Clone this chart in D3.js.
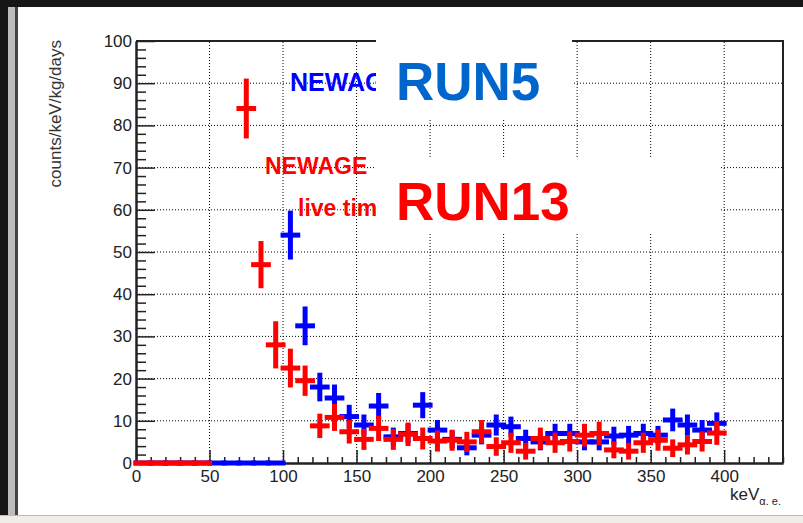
<!DOCTYPE html>
<html>
<head>
<meta charset="utf-8">
<script src="https://cdn.jsdelivr.net/npm/d3@7"></script>
<style>
  body { margin: 0; background: #151515; }
  svg { display: block; font-family: "Liberation Sans", Arial, sans-serif; }
</style>
</head>
<body>
<div id="plot-container"></div>
<script>
// bin centres (keV) and values, RUN13 (red) and RUN5 (blue)
var redZeroBins = [5, 15, 25, 35, 45];
var blueZeroBins = [5, 15, 25, 35, 45, 55, 65, 75, 85, 95];

var redCentres = [75, 85, 95, 105, 115, 125, 135, 145, 155, 165, 175, 185, 195, 205, 215, 225, 235, 245, 255, 265, 275, 285, 295, 305, 315, 325, 335, 345, 355, 365, 375, 385, 395];
var redValues  = [84, 47, 28, 22.5, 19.5, 8.8, 10.8, 7.4, 5.6, 8.2, 5.6, 6.8, 5.8, 5.2, 5.4, 5.0, 7.4, 3.9, 4.8, 2.8, 5.8, 4.8, 5.1, 6.6, 7.0, 3.1, 2.8, 4.8, 5.4, 3.5, 4.3, 5.1, 7.1];
var redErrors  = [6.5, 5, 5, 4, 3, 2.3, 2.6, 2.2, 1.9, 2.4, 1.9, 2.2, 2, 1.9, 1.9, 1.8, 2.2, 1.6, 1.8, 1.4, 2, 1.8, 1.8, 2.1, 2.2, 1.4, 1.4, 1.8, 1.9, 1.5, 1.7, 1.8, 2.2];

var blueCentres = [105, 115, 125, 135, 145, 155, 165, 175, 185, 195, 205, 215, 225, 235, 245, 255, 265, 275, 285, 295, 305, 315, 325, 335, 345, 355, 365, 375, 385, 395];
var blueValues  = [54, 32.5, 18, 15.4, 11, 9, 13.5, 6.2, 7, 13.7, 7.8, 5.6, 3.6, 6.6, 9, 8.6, 5.8, 5, 7, 7, 5, 5, 6.4, 6.6, 7, 6.6, 10.2, 9, 7.8, 9.4];
var blueErrors  = [5.2, 4, 2.8, 2.6, 2.2, 1.9, 2.5, 1.6, 1.7, 2.5, 1.8, 1.5, 1.2, 1.6, 1.9, 1.8, 1.5, 1.4, 1.7, 1.7, 1.4, 1.4, 1.6, 1.6, 1.7, 1.6, 2.1, 1.9, 1.8, 2];

var xMajor = [0, 50, 100, 150, 200, 250, 300, 350, 400];
var yMajor = [0, 10, 20, 30, 40, 50, 60, 70, 80, 90, 100];

var binHalf = 5;
var width = 803, height = 523;

var svg = d3.select("#plot-container").append("svg")
  .attr("width", width)
  .attr("height", height);

// window chrome
svg.append("rect").attr("width", width).attr("height", height).attr("fill", "#161616");
svg.append("rect").attr("x", 8).attr("y", 7).attr("width", 8).attr("height", 510).attr("fill", "#bdbdbd");
svg.append("rect").attr("x", 15).attr("y", 7).attr("width", 3).attr("height", 510).attr("fill", "#444");
svg.append("rect").attr("x", 18).attr("y", 7).attr("width", width - 18).attr("height", 509).attr("fill", "#ffffff");
svg.append("rect").attr("x", 0).attr("y", 515).attr("width", width).attr("height", 8).attr("fill", "#eeede8");
svg.append("line").attr("x1", 0).attr("x2", width).attr("y1", 515.5).attr("y2", 515.5).attr("stroke", "#bbb");

var x = d3.scaleLinear().domain([0, 440]).range([136, 783]);
var y = d3.scaleLinear().domain([0, 100]).range([463, 41]);

// dotted grid
svg.append("g").selectAll("line").data(xMajor.slice(1))
  .enter().append("line")
  .attr("x1", function(d){ return x(d); }).attr("x2", function(d){ return x(d); })
  .attr("y1", y(0)).attr("y2", y(100))
  .attr("stroke", "#000").attr("stroke-width", 1).attr("stroke-dasharray", "1,2");
svg.append("g").selectAll("line").data(yMajor.slice(1, -1))
  .enter().append("line")
  .attr("x1", x(0)).attr("x2", x(440))
  .attr("y1", function(d){ return y(d); }).attr("y2", function(d){ return y(d); })
  .attr("stroke", "#000").attr("stroke-width", 1).attr("stroke-dasharray", "1,2");

// frame top and right
svg.append("path")
  .attr("d", "M" + x(0) + "," + y(100) + "H" + x(440) + "V" + y(0))
  .attr("fill", "none").attr("stroke", "#222").attr("stroke-width", 2);

// axes, ticks inside like ROOT
var yMinor = d3.range(0, 101, 2).filter(function(d){ return d % 10 != 0; });
var xMinor = d3.range(0, 441, 10).filter(function(d){ return d % 50 != 0; });

var yAxis = svg.append("g").attr("transform", "translate(" + x(0) + ",0)")
  .call(d3.axisLeft(y).tickValues(yMajor).tickSizeInner(-19).tickSizeOuter(0).tickPadding(5).tickFormat(d3.format("d")));
svg.append("g").attr("transform", "translate(" + x(0) + ",0)")
  .call(d3.axisLeft(y).tickValues(yMinor).tickSizeInner(-10).tickSizeOuter(0).tickFormat(""));

var xAxis = svg.append("g").attr("transform", "translate(0," + y(0) + ")")
  .call(d3.axisBottom(x).tickValues(xMajor).tickSizeInner(-13).tickSizeOuter(0).tickPadding(5).tickFormat(d3.format("d")));
svg.append("g").attr("transform", "translate(0," + y(0) + ")")
  .call(d3.axisBottom(x).tickValues(xMinor).tickSizeInner(-6).tickSizeOuter(0).tickFormat(""));

svg.selectAll(".domain").attr("stroke", "#222").attr("stroke-width", 2);
svg.selectAll(".tick line").attr("stroke", "#222").attr("stroke-width", 1.5);
svg.selectAll(".tick text").attr("font-size", 17).attr("fill", "#222")
  .attr("font-family", "Liberation Sans, Arial, sans-serif");
yAxis.selectAll(".tick text").attr("x", -4);
xAxis.selectAll(".tick text").attr("y", 7);

// axis titles
svg.append("text")
  .attr("transform", "translate(61,40) rotate(-90)")
  .attr("text-anchor", "end")
  .attr("font-size", 17).attr("fill", "#333")
  .text("counts/keV/kg/days");

var xt = svg.append("text").attr("x", 730).attr("y", 500).attr("font-size", 17).attr("fill", "#222");
xt.append("tspan").text("keV");
xt.append("tspan").attr("dy", 5).attr("font-size", 11).text("\u03B1. e.");

// histograms with error bars
function drawHist(centres, values, errors, colour){
  var g = svg.append("g");
  centres.forEach(function(c, i){
    g.append("line")
      .attr("x1", x(c - binHalf)).attr("x2", x(c + binHalf))
      .attr("y1", y(values[i])).attr("y2", y(values[i]))
      .attr("stroke", colour).attr("stroke-width", 5).attr("stroke-linecap", "square");
    if (errors[i] > 0) {
      g.append("line")
        .attr("x1", x(c)).attr("x2", x(c))
        .attr("y1", y(values[i] - errors[i])).attr("y2", y(values[i] + errors[i]))
        .attr("stroke", colour).attr("stroke-width", 5).attr("stroke-linecap", "square");
    }
  });
}

drawHist(blueZeroBins, blueZeroBins.map(function(){ return 0; }), blueZeroBins.map(function(){ return 0; }), "#0000ff");
drawHist(blueCentres, blueValues, blueErrors, "#0000ff");
drawHist(redZeroBins, redZeroBins.map(function(){ return 0; }), redZeroBins.map(function(){ return 0; }), "#ff0000");
drawHist(redCentres, redValues, redErrors, "#ff0000");

// legend texts, cut off at the white boxes
svg.append("defs").append("clipPath").attr("id", "legclip")
  .append("rect").attr("x", 0).attr("y", 0).attr("width", 376).attr("height", height);

svg.append("text").attr("x", 290).attr("y", 91).attr("font-size", 25).attr("font-weight", "bold")
  .attr("clip-path", "url(#legclip)")
  .attr("fill", "#0000ff").text("NEWAG");
svg.append("text").attr("x", 265).attr("y", 174).attr("font-size", 23).attr("font-weight", "bold")
  .attr("clip-path", "url(#legclip)")
  .attr("fill", "#ff0000").text("NEWAGE");
svg.append("text").attr("x", 298).attr("y", 216).attr("font-size", 23).attr("font-weight", "bold")
  .attr("clip-path", "url(#legclip)")
  .attr("fill", "#ff0000").text("live tim");

// white cover boxes with run names
svg.append("rect").attr("x", 376).attr("y", 12).attr("width", 196).attr("height", 106).attr("fill", "#fff");
svg.append("rect").attr("x", 376).attr("y", 158).attr("width", 344).attr("height", 74).attr("fill", "#fff");

svg.append("text").attr("x", 396).attr("y", 100).attr("font-size", 53).attr("font-weight", "bold")
  .attr("fill", "#0066cc").text("RUN5");
svg.append("text").attr("x", 396).attr("y", 220).attr("font-size", 53).attr("font-weight", "bold")
  .attr("fill", "#ff0000").text("RUN13");
</script>
</body>
</html>
